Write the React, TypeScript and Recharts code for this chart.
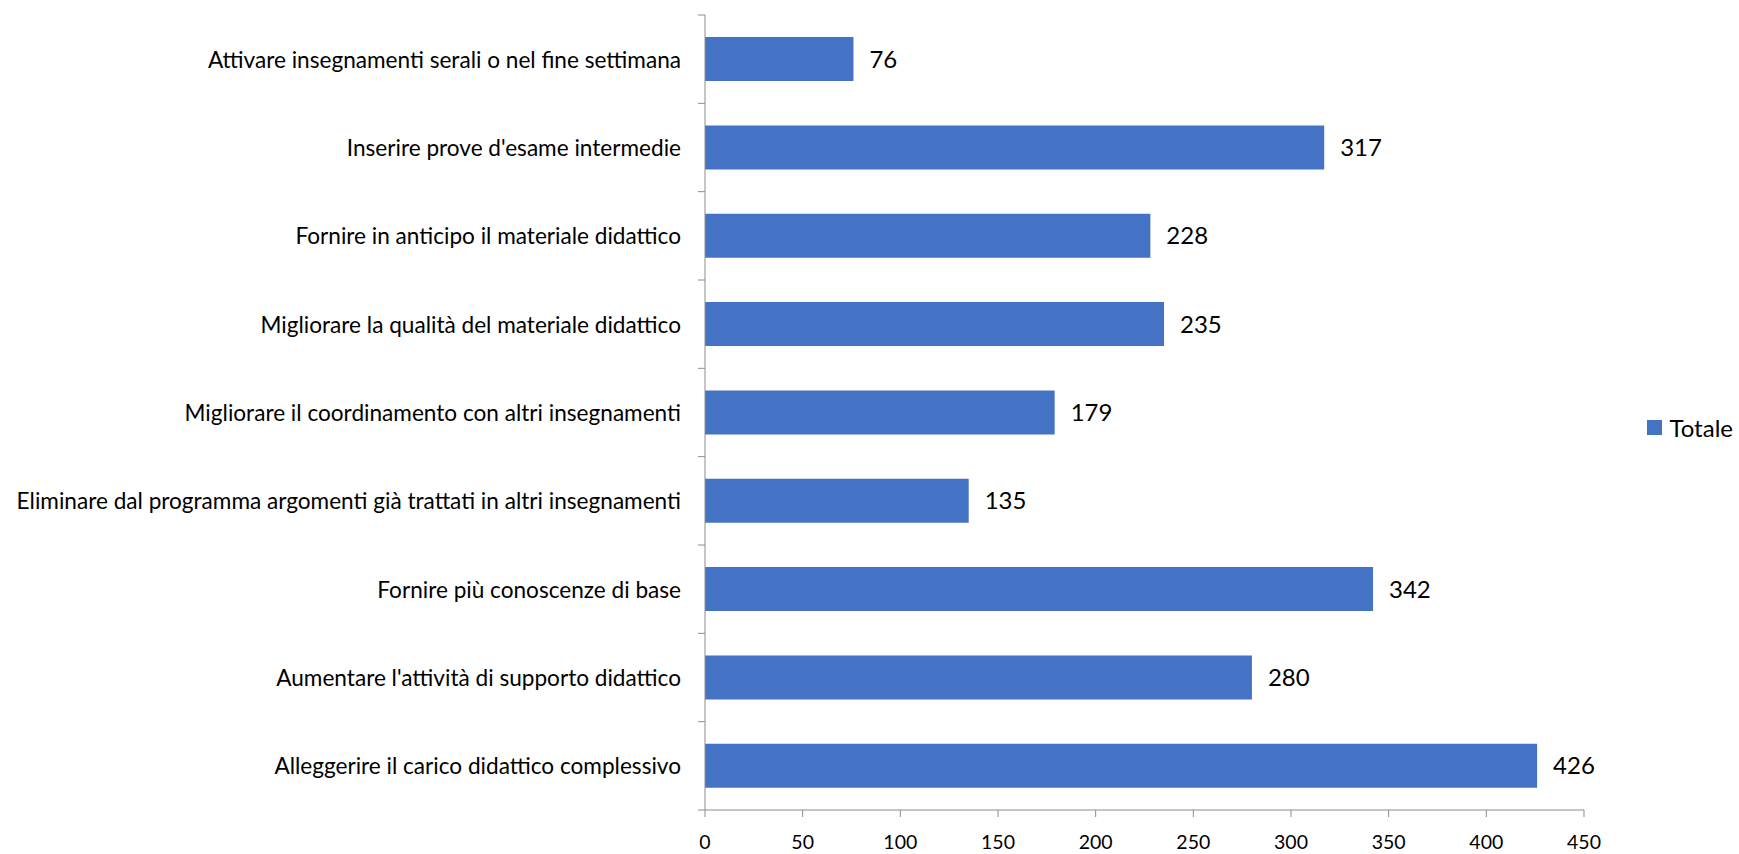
import { BarChart, Bar, XAxis, YAxis, LabelList, Legend } from 'recharts';

const categories = [
  'Attivare insegnamenti serali o nel fine settimana',
  "Inserire prove d'esame intermedie",
  'Fornire in anticipo il materiale didattico',
  'Migliorare la qualità del materiale didattico',
  'Migliorare il coordinamento con altri insegnamenti',
  'Eliminare dal programma argomenti già trattati in altri insegnamenti',
  'Fornire più conoscenze di base',
  "Aumentare l'attività di supporto didattico",
  'Alleggerire il carico didattico complessivo',
];
const totale = [76, 317, 228, 235, 179, 135, 342, 280, 426];
const xTicks = [0, 50, 100, 150, 200, 250, 300, 350, 400, 450];

const FONT = 'Lato, sans-serif';
const AXIS_GREY = '#8c8c8c';
const BAR_BLUE = '#4472C4';
const LEGEND_W = 88;

const data = categories.map((name, i) => ({ name, Totale: totale[i] }));

// category label at the band centre, Excel-style tick marks on the band edges
function CategoryTick(props: any) {
  const { x, y, payload, index } = props;
  const half = payload.offset ?? 0;
  const axisX = x + 24;
  return (
    <g>
      <text
        x={x}
        y={y}
        textAnchor="end"
        dominantBaseline="central"
        fontFamily={FONT}
        fontSize={22.6}
        fill="#000"
      >
        {payload.value}
      </text>
      <line x1={axisX - 7} x2={axisX} y1={y - half} y2={y - half} stroke={AXIS_GREY} />
      {index === categories.length - 1 && (
        <line x1={axisX - 7} x2={axisX} y1={y + half} y2={y + half} stroke={AXIS_GREY} />
      )}
    </g>
  );
}

function LegendContent() {
  return (
    <div style={{ display: 'flex', alignItems: 'center', justifyContent: 'flex-end', fontFamily: FONT, fontSize: 24 }}>
      <span style={{ width: 15, height: 15, background: BAR_BLUE, marginRight: 7 }} />
      <span>Totale</span>
    </div>
  );
}

export default function App() {
  return (
    <div style={{ width: 1739, height: 854 }}>
      <style>{'body{margin:0}'}</style>
      <BarChart
        width={1739}
        height={854}
        data={data}
        layout="vertical"
        barCategoryGap="25%"
        margin={{ top: 15, right: 155 - LEGEND_W, left: 0, bottom: 0 }}
      >
        <XAxis
          type="number"
          domain={[0, 450]}
          ticks={xTicks}
          interval={0}
          height={44}
          axisLine={{ stroke: AXIS_GREY }}
          tickLine={{ stroke: AXIS_GREY }}
          tickSize={7}
          tickMargin={18}
          tick={{ fontFamily: FONT, fontSize: 19.5, fill: '#000' }}
        />
        <YAxis
          type="category"
          dataKey="name"
          width={705}
          interval={0}
          axisLine={{ stroke: AXIS_GREY }}
          tickLine={false}
          tickSize={0}
          tickMargin={24}
          tick={<CategoryTick />}
        />
        <Legend
          layout="vertical"
          align="right"
          verticalAlign="middle"
          wrapperStyle={{ right: 6, width: LEGEND_W }}
          content={<LegendContent />}
        />
        <Bar dataKey="Totale" fill={BAR_BLUE} isAnimationActive={false}>
          <LabelList
            dataKey="Totale"
            position="right"
            offset={16}
            fontFamily={FONT}
            fontSize={24}
            fill="#000"
          />
        </Bar>
      </BarChart>
    </div>
  );
}
